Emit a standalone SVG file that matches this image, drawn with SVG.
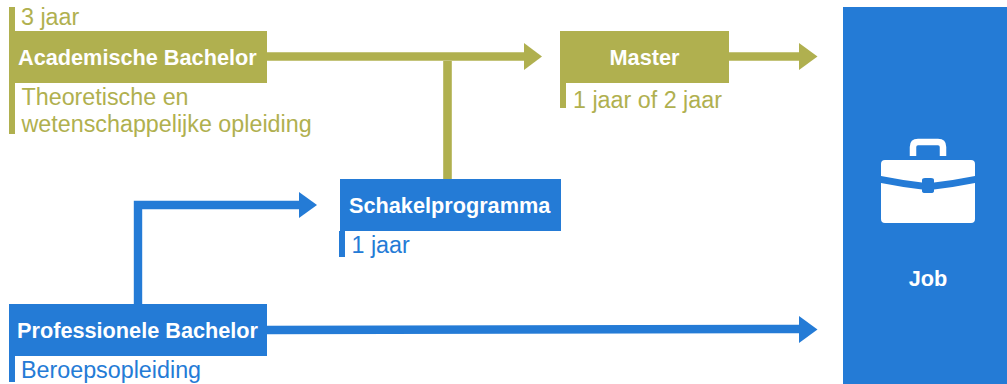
<svg xmlns="http://www.w3.org/2000/svg" width="1007" height="384" viewBox="0 0 1007 384">
<style>
.o{fill:#b0b04f}.b{fill:#247bd6}
text{font-family:"Liberation Sans",Arial,sans-serif}
.h{font-size:21.7px;font-weight:bold;fill:#fff}
.t{font-size:23.3px}
.ol{stroke:#b0b04f;stroke-width:8.6;fill:none}
.bl{stroke:#247bd6;stroke-width:8.4;fill:none}
</style>
<rect width="1007" height="384" fill="#fff"/>
<g id="connectors">
<path class="ol" d="M267 56.500H526"/><polygon class="o" points="524,43 542,56.500 524,70"/>
<path class="ol" d="M447.500 61V179"/>
<path class="ol" d="M729 56.500H801"/><polygon class="o" points="799,43 817.500,56.500 799,70"/>
<path class="bl" d="M138 304V205H302"/><polygon class="b" points="299,192 317,205 299,218"/>
<path class="bl" d="M267 330L801 329"/><polygon class="b" points="799,316 817.500,329.500 799,343"/>
</g>
<g id="academische-bachelor">
<rect class="o" x="9" y="7" width="6" height="127"/><rect class="o" x="9" y="31" width="258" height="52"/>
<text class="h" x="18" y="65">Academische Bachelor</text>
<text class="t o" x="21" y="25">3 jaar</text>
<text class="t o" x="21.500" y="105">Theoretische en</text>
<text class="t o" x="21.500" y="132">wetenschappelijke opleiding</text>
</g>
<g id="master">
<rect class="o" x="560" y="31" width="6" height="77"/><rect class="o" x="560" y="31" width="169" height="52"/>
<text class="h" x="644.500" y="65" text-anchor="middle">Master</text>
<text class="t o" x="573" y="108">1 jaar of 2 jaar</text>
</g>
<g id="schakelprogramma">
<rect class="b" x="339" y="231" width="6" height="26"/><rect class="b" x="340" y="179" width="221" height="52"/>
<text class="h" x="349" y="213">Schakelprogramma</text>
<text class="t b" x="351.500" y="253">1 jaar</text>
</g>
<g id="professionele-bachelor">
<rect class="b" x="9" y="304" width="6" height="78"/><rect class="b" x="9" y="304" width="258" height="52"/>
<text class="h" x="17" y="338">Professionele Bachelor</text>
<text class="t b" x="21" y="378">Beroepsopleiding</text>
</g>
<g id="job">
<rect class="b" x="843" y="7" width="164" height="377"/>
<path d="M913 156V147Q913 142 918 142H938Q943 142 943 147V156" fill="none" stroke="#fff" stroke-width="6.500"/>
<path fill="#fff" d="M885 160H971Q975 160 975 164V176Q955 180 934 182.500V180Q934 178 931 178H925Q922 178 922 180V182.500Q901 180 881 176V164Q881 160 885 160Z"/>
<path fill="#fff" d="M881 183Q901 187 922 189.500V191Q922 193 925 193H931Q934 193 934 191V189.500Q955 187 975 183V219Q975 223 971 223H885Q881 223 881 219Z"/>
<text class="h" x="928" y="286" text-anchor="middle">Job</text>
</g>
</svg>
